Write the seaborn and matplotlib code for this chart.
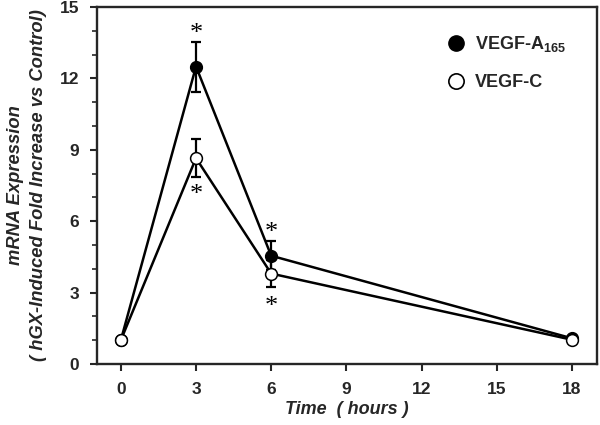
import matplotlib
matplotlib.use("Agg")
import matplotlib.pyplot as plt
import seaborn as sns
import pandas as pd
from matplotlib.lines import Line2D

hours = [0, 3, 6, 18]
vegf_a = [1.0, 12.5, 4.55, 1.08]
vegf_a_err = [0.0, 1.05, 0.6, 0.0]
vegf_c = [1.0, 8.65, 3.8, 1.02]
vegf_c_err = [0.0, 0.8, 0.55, 0.0]
# asterisk positions (time, value)
star_x = [3, 3, 6, 6]
star_y = [13.85, 7.1, 5.5, 2.4]

x_ticks = [0, 3, 6, 9, 12, 15, 18]
y_ticks = [0, 3, 6, 9, 12, 15]

sns.set_style("ticks")
plt.rcParams['font.family'] = ['Liberation Sans', 'DejaVu Sans']
plt.rcParams['mathtext.fontset'] = 'custom'
plt.rcParams['mathtext.rm'] = 'Liberation Sans:bold'
plt.rcParams['mathtext.bf'] = 'Liberation Sans:bold'

df = pd.DataFrame({
    "Time": hours * 2,
    "Value": vegf_a + vegf_c,
    "Series": ["A"] * 4 + ["C"] * 4,
})

fig = plt.figure(figsize=(6, 4.25), dpi=100)
ax = fig.add_axes([0.1617, 0.1435, 0.8333, 0.84])

ax.errorbar(hours, vegf_a, yerr=vegf_a_err, fmt='none', ecolor='black',
            elinewidth=1.6, capsize=3.5, capthick=1.6, zorder=1)
ax.errorbar(hours, vegf_c, yerr=vegf_c_err, fmt='none', ecolor='black',
            elinewidth=1.6, capsize=3.5, capthick=1.6, zorder=1)

sns.lineplot(data=df[df.Series == "A"], x="Time", y="Value", ax=ax, color='black',
             lw=1.8, marker='o', markersize=8.5, markerfacecolor='black',
             markeredgecolor='black', markeredgewidth=1.0, zorder=3, legend=False)
sns.lineplot(data=df[df.Series == "C"], x="Time", y="Value", ax=ax, color='black',
             lw=1.8, marker='o', markersize=8.5, markerfacecolor='white',
             markeredgecolor='black', markeredgewidth=1.1, zorder=4, legend=False)

for sx, sy in zip(star_x, star_y):
    ax.text(sx, sy, "*", ha='center', va='center', fontsize=19, color='black',
            family='Liberation Serif')

ax.set_xlim(-0.95, 19.0)
ax.set_ylim(0, 15)
ax.set_xticks(x_ticks)
ax.set_yticks(y_ticks)
ax.set_yticks(range(0, 16), minor=True)
ax.set_xticklabels([str(t) for t in x_ticks], fontweight='bold', fontsize=12.5)
ax.set_yticklabels([str(t) for t in y_ticks], fontweight='bold', fontsize=12.5)
ax.tick_params(axis='both', which='major', direction='out', length=5, width=1.5, pad=8)
ax.tick_params(axis='y', which='minor', direction='out', length=3.5, width=1.2)
for s in ax.spines.values():
    s.set_linewidth(1.7)
    s.set_visible(True)

ax.set_xlabel("Time  ( hours )", fontsize=13, fontweight='bold', fontstyle='italic', labelpad=3)
ax.set_ylabel("mRNA Expression\n( hGX-Induced Fold Increase vs Control)",
              fontsize=13.2, fontweight='bold', fontstyle='italic', labelpad=9, linespacing=1.45)

handles = [
    Line2D([], [], ls='none', marker='o', markersize=11, markerfacecolor='black', markeredgecolor='black'),
    Line2D([], [], ls='none', marker='o', markersize=11, markerfacecolor='white', markeredgecolor='black', markeredgewidth=1.2),
]
leg = ax.legend(handles, ["VEGF-A$_{165}$", "VEGF-C"], loc='upper left',
                bbox_to_anchor=(0.667, 0.97), frameon=False, handlelength=1.0,
                handletextpad=0.55, labelspacing=1.1,
                prop={'weight': 'bold', 'size': 13})

fig.savefig("out.png", dpi=100)
